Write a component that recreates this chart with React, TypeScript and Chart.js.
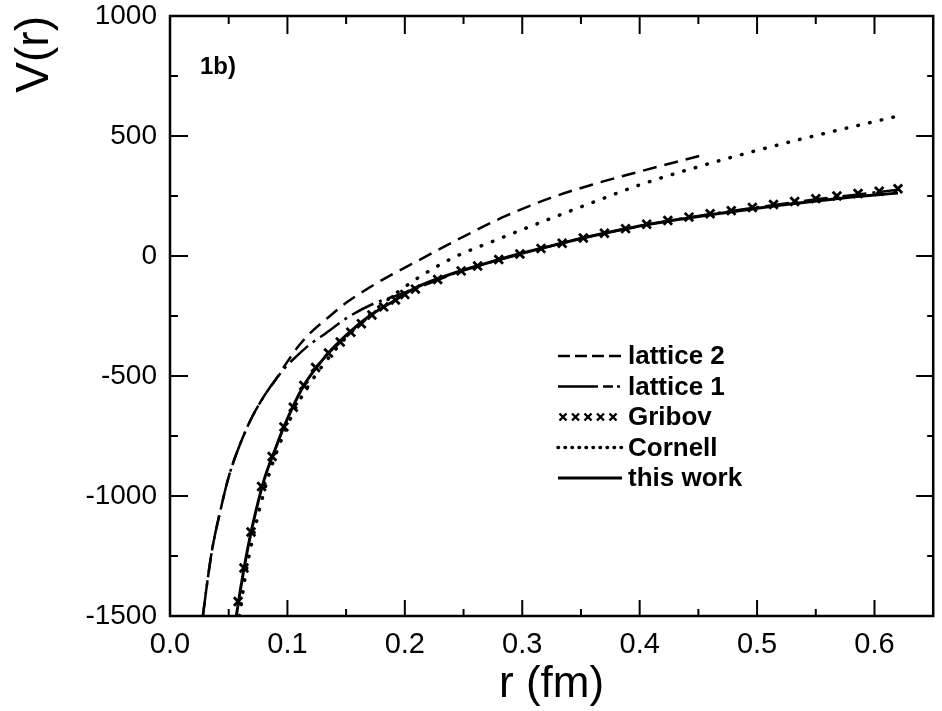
import React, { useEffect, useRef } from "react";
import { Chart, registerables } from "chart.js";

Chart.register(...registerables);

// ---- data (r in fm, V in MeV) ----
const lattice2R = [0.028, 0.032, 0.036, 0.042, 0.05, 0.06, 0.07, 0.08, 0.09, 0.1, 0.11, 0.12, 0.135, 0.15, 0.167, 0.185, 0.206, 0.248, 0.286, 0.323, 0.36, 0.4, 0.451];
const lattice2V = [-1500, -1350, -1220, -1080, -920, -780, -670, -585, -515, -440, -372, -318, -255, -195, -140, -88, -33, 76, 167, 240, 298, 352, 417];

const lattice1R = [0.028, 0.032, 0.036, 0.042, 0.05, 0.06, 0.07, 0.08, 0.09, 0.1, 0.107, 0.12, 0.133, 0.152, 0.175, 0.19, 0.2, 0.21, 0.25, 0.3, 0.35, 0.4, 0.45, 0.5, 0.55, 0.62];
const lattice1V = [-1500, -1350, -1220, -1080, -920, -780, -670, -585, -515, -455, -421, -365, -321, -254, -195, -170, -152, -134, -60, 10, 73, 125, 167, 203, 236, 276];

const gribovR = [0.058, 0.063, 0.069, 0.078, 0.087, 0.097, 0.105, 0.114, 0.124, 0.135, 0.145, 0.154, 0.163, 0.172, 0.182, 0.192, 0.2, 0.209, 0.228, 0.248, 0.262, 0.28, 0.298, 0.316, 0.334, 0.352, 0.37, 0.388, 0.406, 0.424, 0.442, 0.46, 0.478, 0.496, 0.514, 0.532, 0.55, 0.568, 0.586, 0.604, 0.62];
const gribovV = [-1440, -1300, -1150, -960, -835, -712, -630, -540, -465, -404, -358, -318, -282, -246, -212, -183, -160, -138, -98, -62, -42, -15, 8, 31, 53, 75, 95, 114, 132, 148, 162, 176, 189, 202, 215, 227, 239, 250, 260, 270, 280];

const cornellR = [0.059, 0.065, 0.075, 0.085, 0.097, 0.11, 0.12, 0.135, 0.15, 0.17, 0.19, 0.21, 0.24, 0.278, 0.321, 0.361, 0.4, 0.45, 0.5, 0.55, 0.62];
const cornellV = [-1500, -1310, -1080, -900, -740, -605, -525, -425, -340, -245, -165, -95, -10, 67, 150, 225, 296, 372, 440, 502, 583];

const thisWorkR = [0.0565, 0.06, 0.065, 0.07, 0.08, 0.09, 0.097, 0.114, 0.135, 0.152, 0.171, 0.192, 0.209, 0.237, 0.265, 0.294, 0.321, 0.349, 0.378, 0.406, 0.434, 0.463, 0.491, 0.519, 0.547, 0.575, 0.62];
const thisWorkV = [-1500, -1390, -1250, -1130, -935, -800, -712, -540, -404, -321, -246, -183, -133, -79, -37, 4, 38, 72, 103, 130, 153, 174, 193, 211, 227, 243, 262];

const seriesLabels = ["lattice 2", "lattice 1", "Gribov", "Cornell", "this work"];

const xMajorTicks = [0, 0.1, 0.2, 0.3, 0.4, 0.5, 0.6];
const xMinorTicks = [0.05, 0.15, 0.25, 0.35, 0.45, 0.55];
const yMajorTicks = [-1500, -1000, -500, 0, 500, 1000];
const yMinorTicks = [-1250, -750, -250, 250, 750];

const panelLabel = "1b)";
const xTitle = "r (fm)";
const yTitle = "V(r)";

const FONT = "'Liberation Sans', Arial, sans-serif";

const toPts = (r: number[], v: number[]) => r.map((x, i) => ({ x, y: v[i] }));

export default function App() {
  const ref = useRef<HTMLCanvasElement>(null);

  useEffect(() => {
    const canvas = ref.current;
    if (!canvas) return;

    const framePlugin = {
      id: "frameTicks",
      afterDraw(chart: any) {
        const { ctx, chartArea, scales } = chart;
        const { left, right, top, bottom } = chartArea;
        const xs = scales.x;
        const ys = scales.y;
        ctx.save();
        ctx.strokeStyle = "#000";
        ctx.lineWidth = 2.5;
        ctx.strokeRect(left, top, right - left, bottom - top);
        ctx.lineWidth = 2;
        ctx.beginPath();
        xMajorTicks.forEach((v) => {
          const p = xs.getPixelForValue(v);
          ctx.moveTo(p, bottom); ctx.lineTo(p, bottom - 16);
          ctx.moveTo(p, top); ctx.lineTo(p, top + 18);
        });
        xMinorTicks.forEach((v) => {
          const p = xs.getPixelForValue(v);
          ctx.moveTo(p, bottom); ctx.lineTo(p, bottom - 7);
          ctx.moveTo(p, top); ctx.lineTo(p, top + 8);
        });
        yMajorTicks.forEach((v) => {
          const p = ys.getPixelForValue(v);
          ctx.moveTo(left, p); ctx.lineTo(left + 18, p);
          ctx.moveTo(right, p); ctx.lineTo(right - 17, p);
        });
        yMinorTicks.forEach((v) => {
          const p = ys.getPixelForValue(v);
          ctx.moveTo(left, p); ctx.lineTo(left + 8, p);
          ctx.moveTo(right, p); ctx.lineTo(right - 6, p);
        });
        ctx.stroke();

        // panel label
        ctx.fillStyle = "#000";
        ctx.font = `bold 24px ${FONT}`;
        ctx.textAlign = "left";
        ctx.textBaseline = "middle";
        ctx.fillText(panelLabel, left + 30, top + 51);

        // legend
        const lx0 = left + 388;
        const lx1 = left + 452;
        const ly0 = top + 340;
        const dy = 30.5;
        chart.data.datasets.forEach((ds: any, i: number) => {
          const y = ly0 + i * dy;
          ctx.save();
          ctx.strokeStyle = "#000";
          if (ds.showLine === false) {
            ctx.lineWidth = 2.4;
            for (let k = 0; k < 5; k++) {
              const cx = lx0 + 5 + k * 12.5;
              ctx.beginPath();
              ctx.moveTo(cx - 3.5, y - 3.5); ctx.lineTo(cx + 3.5, y + 3.5);
              ctx.moveTo(cx + 3.5, y - 3.5); ctx.lineTo(cx - 3.5, y + 3.5);
              ctx.stroke();
            }
          } else {
            ctx.lineWidth = ds.borderWidth;
            ctx.lineCap = ds.borderCapStyle || "butt";
            ctx.setLineDash(ds.legendDash || ds.borderDash || []);
            ctx.beginPath();
            ctx.moveTo(lx0, y); ctx.lineTo(lx1, y);
            ctx.stroke();
          }
          ctx.restore();
          ctx.fillStyle = "#000";
          ctx.font = `bold 26px ${FONT}`;
          ctx.textAlign = "left";
          ctx.textBaseline = "middle";
          ctx.fillText(ds.label, lx1 + 6, y + 1);
        });
        ctx.restore();
      },
    };

    const chart = new Chart(canvas, {
      type: "line",
      data: {
        datasets: [
          {
            label: seriesLabels[0],
            data: toPts(lattice2R, lattice2V),
            borderColor: "#000",
            borderWidth: 2.5,
            borderDash: [14, 8],
            legendDash: [12, 5],
            pointRadius: 0,
            cubicInterpolationMode: "monotone",
            fill: false,
          } as any,
          {
            label: seriesLabels[1],
            data: toPts(lattice1R, lattice1V),
            borderColor: "#000",
            borderWidth: 2.5,
            borderDash: [24, 6, 3, 6],
            legendDash: [40, 5, 10, 4, 3, 4],
            pointRadius: 0,
            cubicInterpolationMode: "monotone",
            fill: false,
          } as any,
          {
            label: seriesLabels[2],
            data: toPts(gribovR, gribovV),
            borderColor: "#000",
            backgroundColor: "#000",
            showLine: false,
            pointStyle: "crossRot",
            pointRadius: 6,
            pointBorderWidth: 2.8,
            pointBorderColor: "#000",
          } as any,
          {
            label: seriesLabels[3],
            data: toPts(cornellR, cornellV),
            borderColor: "#000",
            borderWidth: 3.5,
            borderDash: [0.5, 11.5],
            legendDash: [0.5, 6.5],
            borderCapStyle: "round",
            pointRadius: 0,
            cubicInterpolationMode: "monotone",
            fill: false,
          } as any,
          {
            label: seriesLabels[4],
            data: toPts(thisWorkR, thisWorkV),
            borderColor: "#000",
            borderWidth: 3,
            pointRadius: 0,
            cubicInterpolationMode: "monotone",
            fill: false,
          } as any,
        ],
      },
      options: {
        animation: false,
        responsive: false,
        devicePixelRatio: 1,
        layout: { padding: { top: 16, right: 5, left: 0, bottom: 0 } },
        plugins: {
          legend: { display: false },
          tooltip: { enabled: false },
        },
        scales: {
          x: {
            type: "linear",
            position: "bottom",
            min: 0,
            max: 0.65,
            grid: { display: false, drawTicks: false },
            border: { display: false },
            ticks: {
              stepSize: 0.1,
              includeBounds: false,
              color: "#000",
              padding: 12,
              font: { family: FONT, size: 29 },
              callback: (v: any) => Number(v).toFixed(1),
            },
            title: {
              display: true,
              text: xTitle,
              color: "#000",
              font: { family: FONT, size: 44 },
              padding: { top: 0, bottom: 0 },
            },
            afterFit: (s: any) => {
              s.height = 95;
              s.paddingLeft = 0;
              s.paddingRight = 0;
            },
          },
          y: {
            type: "linear",
            position: "left",
            min: -1500,
            max: 1000,
            grid: { display: false, drawTicks: false },
            border: { display: false },
            ticks: {
              stepSize: 500,
              color: "#000",
              padding: 13,
              font: { family: FONT, size: 28 },
              callback: (v: any) => String(v),
            },
            title: {
              display: true,
              text: yTitle,
              align: "end",
              color: "#000",
              font: { family: FONT, size: 46 },
              padding: { top: 8, bottom: 0 },
            },
            afterFit: (s: any) => {
              s.width = 170;
              s.paddingTop = 0;
              s.paddingBottom = 0;
            },
          },
        },
      } as any,
      plugins: [framePlugin],
    });

    return () => chart.destroy();
  }, []);

  return (
    <div style={{ position: "fixed", left: 0, top: 0, width: 942, height: 711, background: "#fff" }}>
      <canvas ref={ref} width={942} height={711} style={{ display: "block", width: 942, height: 711 }} />
    </div>
  );
}
